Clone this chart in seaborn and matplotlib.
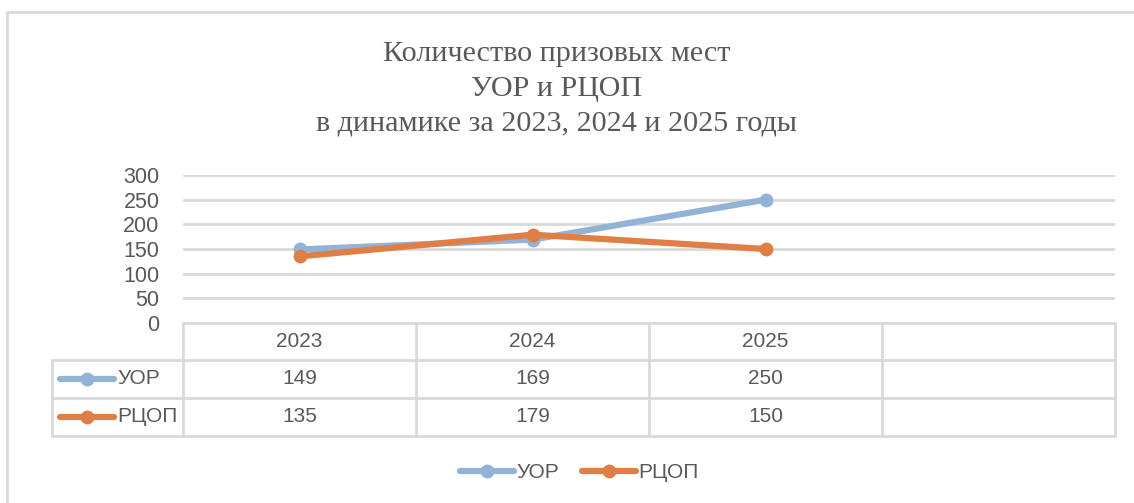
import seaborn as sns
import pandas as pd
import matplotlib.pyplot as plt
from matplotlib.lines import Line2D

years = ['2023', '2024', '2025', '']
series = ['УОР', 'РЦОП']
uor = [149, 169, 250]
rcop = [135, 179, 150]
yticks = [0, 50, 100, 150, 200, 250, 300]
title = 'Количество призовых мест\nУОР и РЦОП\nв динамике за 2023, 2024 и 2025 годы'

colors = {'УОР': '#93B3D6', 'РЦОП': '#E07F45'}
grey = '#595959'
line_grey = '#D9D9D9'

W, H = 1134, 503
sns.set_style('white')
plt.rcParams['font.family'] = ['Liberation Sans', 'DejaVu Sans']

data = pd.DataFrame({
    'year': years[:3] * 2,
    'value': uor + rcop,
    'series': [series[0]] * 3 + [series[1]] * 3,
})

fig = plt.figure(figsize=(W / 100, H / 100), dpi=100)

def fx(px):
    return px / W

def fy(py):
    return 1 - py / H

# plot area in pixel coords
left, right, top, bottom = 183, 1115, 175, 323
ax = fig.add_axes([fx(left), fy(bottom), fx(right - left), fy(top) - fy(bottom)])
sns.lineplot(data=data, x='year', y='value', hue='series', palette=colors,
             marker='o', markersize=10, markeredgewidth=0, linewidth=4.5,
             legend=False, ax=ax, sort=False)
ax.set_xlim(-0.5, 3.5)
ax.set_ylim(0, 300)
ax.set_yticks(yticks)
ax.set_yticklabels([str(t) for t in yticks], fontsize=15.5, color=grey)
ax.set_xticks([])
ax.set_xlabel('')
ax.set_ylabel('')
ax.tick_params(axis='y', length=0, pad=17)
ax.yaxis.grid(True, color=line_grey, linewidth=2)
ax.set_axisbelow(True)
for s in ax.spines.values():
    s.set_visible(False)

# data table
col_w = (right - left) / 4
rows_y = [323, 360, 398, 436]
leg_left = 52
tr = fig.transFigure
def hline(x0, x1, y):
    fig.add_artist(Line2D([fx(x0), fx(x1)], [fy(y), fy(y)], color=line_grey, lw=2, transform=tr))
def vline(x, y0, y1):
    fig.add_artist(Line2D([fx(x), fx(x)], [fy(y0), fy(y1)], color=line_grey, lw=2, transform=tr))

hline(left, right, rows_y[0])
for y in rows_y[1:]:
    hline(leg_left, right, y)
for i in range(5):
    vline(left + i * col_w, rows_y[0], rows_y[3])
vline(leg_left, rows_y[1], rows_y[3])

for i, yr in enumerate(years):
    fig.text(fx(left + (i + 0.5) * col_w), fy((rows_y[0] + rows_y[1]) / 2), yr,
             ha='center', va='center', fontsize=15, color=grey)
for r, (name, vals) in enumerate([(series[0], uor), (series[1], rcop)]):
    yc = (rows_y[r + 1] + rows_y[r + 2]) / 2
    for i, v in enumerate(vals):
        fig.text(fx(left + (i + 0.5) * col_w), fy(yc), str(v),
                 ha='center', va='center', fontsize=15, color=grey)
    fig.add_artist(Line2D([fx(60), fx(114)], [fy(yc), fy(yc)], color=colors[name], lw=4.5,
                          solid_capstyle='round', transform=tr))
    fig.add_artist(Line2D([fx(87)], [fy(yc)], color=colors[name], marker='o', markersize=10,
                          markeredgewidth=0, transform=tr))
    fig.text(fx(117), fy(yc), name, ha='left', va='center', fontsize=15, color=grey)

# bottom legend
handles = [Line2D([], [], color=colors[s], lw=4.5, marker='o', markersize=10,
                  markeredgewidth=0, solid_capstyle='round') for s in series]
fig.legend(handles, series, loc='center', bbox_to_anchor=(fx(579), fy(473)), ncol=2,
           frameon=False, fontsize=15, handlelength=2.6, handletextpad=0.1,
           columnspacing=1.1, labelcolor=grey)

# title
fig.text(fx(557), fy(89), title, ha='center', va='center', fontsize=21.7,
         family=['Liberation Serif', 'DejaVu Serif'], color=grey, linespacing=1.45)

# chart border
fig.add_artist(plt.Rectangle((fx(7), fy(H + 5)), fx(W), fy(12) - fy(H + 5), fill=False,
                             edgecolor=line_grey, lw=2, transform=tr))

fig.savefig('out.png', dpi=100, facecolor='white')
